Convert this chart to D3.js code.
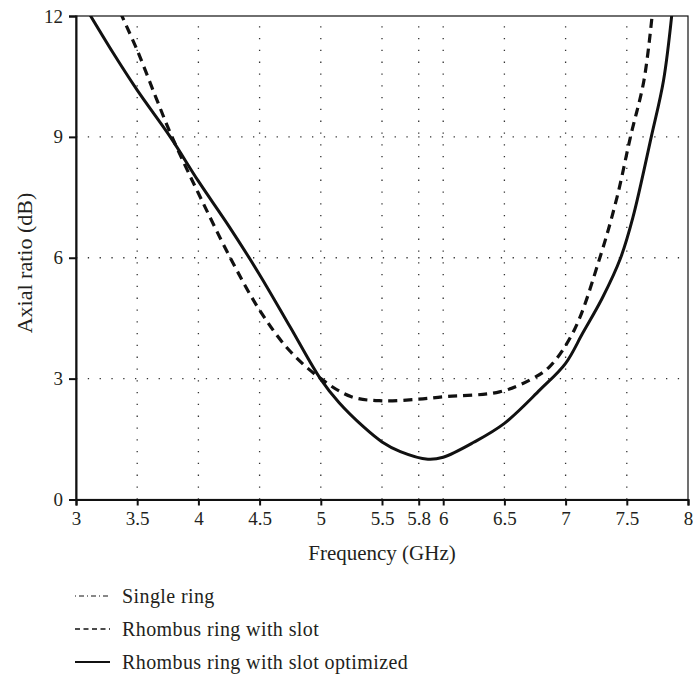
<!DOCTYPE html>
<html>
<head>
<meta charset="utf-8">
<script src="https://cdn.jsdelivr.net/npm/d3@7"></script>
<style>
  body { margin: 0; background: #fff; }
  svg text { font-family: "Liberation Serif", "DejaVu Serif", serif; fill: #231f20; }
</style>
</head>
<body>
<svg id="chart" width="693" height="676"></svg>
<script>
// Frequency (GHz) / axial ratio (dB)
const optFreq = [3.10, 3.3, 3.5, 3.77, 4.0, 4.25, 4.5, 4.75, 5.0, 5.15, 5.35, 5.5, 5.65, 5.875, 6.0, 6.25, 6.5, 6.79, 7.0, 7.14, 7.3, 7.45, 7.55, 7.7, 7.8, 7.87];
const optAR   = [12.1, 11.1, 10.16, 9.0, 7.9, 6.78, 5.58, 4.28, 2.98, 2.4, 1.8, 1.43, 1.19, 1.0, 1.05, 1.42, 1.89, 2.72, 3.38, 4.13, 5.0, 6.0, 7.0, 9.0, 10.4, 12.1];

const slotFreq = [3.36, 3.5, 3.65, 3.77, 3.89, 4.0, 4.26, 4.5, 4.74, 5.0, 5.25, 5.5, 5.8, 6.0, 6.46, 6.71, 6.87, 7.07, 7.28, 7.42, 7.53, 7.64, 7.71];
const slotAR   = [12.1, 11.15, 10.0, 9.1, 8.3, 7.6, 6.0, 4.7, 3.71, 3.0, 2.55, 2.45, 2.49, 2.55, 2.67, 2.97, 3.3, 4.2, 6.0, 7.5, 9.0, 10.4, 12.1];

const xTicks = [3, 3.5, 4, 4.5, 5, 5.5, 5.8, 6, 6.5, 7, 7.5, 8];
const yTicks = [0, 3, 6, 9, 12];

const legendLabels = ['Single ring', 'Rhombus ring with slot', 'Rhombus ring with slot optimized'];

const svg = d3.select('#chart');
const ink = '#111';

const x = d3.scaleLinear().domain([3, 8]).range([76, 688]);
const y = d3.scaleLinear().domain([0, 12]).range([499.5, 16]);

svg.append('defs').append('clipPath').attr('id', 'plot-clip')
  .append('rect')
  .attr('x', x(3)).attr('y', y(12))
  .attr('width', x(8) - x(3)).attr('height', y(0) - y(12));

// dotted grid
const grid = svg.append('g').attr('stroke', '#333').attr('stroke-width', 1.3)
  .attr('stroke-dasharray', '1.3,10.5');
xTicks.filter(t => t > 3 && t < 8).forEach(t => {
  grid.append('line')
    .attr('x1', x(t)).attr('x2', x(t))
    .attr('y1', y(0)).attr('y2', y(12));
});
yTicks.filter(t => t > 0 && t < 12).forEach(t => {
  grid.append('line')
    .attr('x1', x(3)).attr('x2', x(8))
    .attr('y1', y(t)).attr('y2', y(t));
});

// frame
svg.append('rect')
  .attr('x', x(3)).attr('y', y(12))
  .attr('width', x(8) - x(3)).attr('height', y(0) - y(12))
  .attr('fill', 'none').attr('stroke', ink).attr('stroke-width', 1.2);

// axes
const xAxis = svg.append('g')
  .attr('transform', `translate(0,${y(0)})`)
  .call(d3.axisBottom(x).tickValues(xTicks).tickFormat(d => d).tickSize(6).tickPadding(6));
const yAxis = svg.append('g')
  .attr('transform', `translate(${x(3)},0)`)
  .call(d3.axisLeft(y).tickValues(yTicks).tickFormat(d => d).tickSize(7).tickPadding(6));

[xAxis, yAxis].forEach(g => {
  g.select('.domain').attr('stroke', ink).attr('stroke-width', 2);
  g.selectAll('.tick line').attr('stroke', ink).attr('stroke-width', 2);
  g.selectAll('.tick text')
    .attr('fill', '#231f20')
    .style('font-family', '"Liberation Serif", serif')
    .style('font-size', '19px');
});

// axis titles
svg.append('text')
  .attr('x', (x(3) + x(8)) / 2).attr('y', 560)
  .attr('text-anchor', 'middle')
  .style('font-size', '21px')
  .text('Frequency (GHz)');

svg.append('text')
  .attr('transform', 'translate(32,263) rotate(-90)')
  .attr('text-anchor', 'middle')
  .style('font-size', '22px')
  .text('Axial ratio (dB)');

// curves
const line = d3.line()
  .x(d => x(d[0]))
  .y(d => y(d[1]))
  .curve(d3.curveCatmullRom.alpha(0.5));

const plot = svg.append('g').attr('clip-path', 'url(#plot-clip)');

plot.append('path')
  .datum(d3.zip(slotFreq, slotAR))
  .attr('d', line)
  .attr('fill', 'none')
  .attr('stroke', ink)
  .attr('stroke-width', 3.2)
  .attr('stroke-dasharray', '9,6');

plot.append('path')
  .datum(d3.zip(optFreq, optAR))
  .attr('d', line)
  .attr('fill', 'none')
  .attr('stroke', ink)
  .attr('stroke-width', 3);

// legend
const legendDash = ['1,3,5,3', '5,3.5', null];
const legendWidth = [1, 1.4, 2];
legendLabels.forEach((label, i) => {
  const ly = 596 + i * 33;
  svg.append('line')
    .attr('x1', 75).attr('x2', 110)
    .attr('y1', ly).attr('y2', ly)
    .attr('stroke', ink)
    .attr('stroke-width', legendWidth[i])
    .attr('stroke-dasharray', legendDash[i]);
  svg.append('text')
    .attr('x', 122).attr('y', ly)
    .attr('dy', '0.35em')
    .style('font-size', '20px')
    .style('letter-spacing', '0.4px')
    .text(label);
});
</script>
</body>
</html>
